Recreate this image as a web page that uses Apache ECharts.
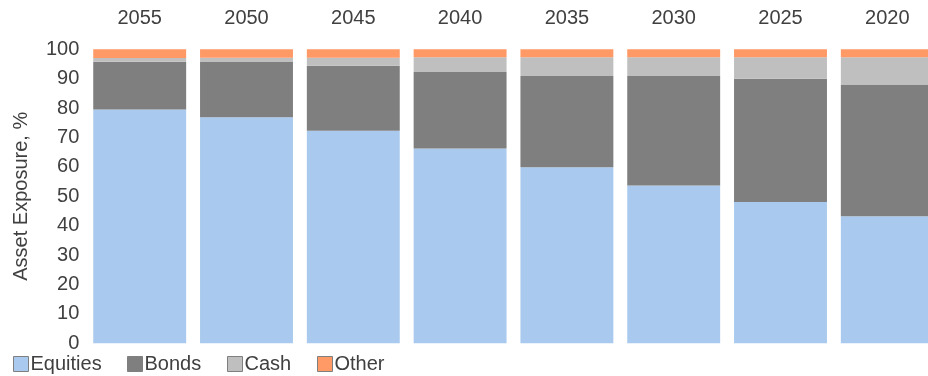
<!DOCTYPE html>
<html>
<head>
<meta charset="utf-8">
<script src="https://cdn.jsdelivr.net/npm/echarts@6/dist/echarts.min.js"></script>
<style>html,body{margin:0;padding:0;background:#fff;overflow:hidden;width:928px;height:376px}#c{width:945px;height:376px}</style>
</head>
<body>
<div id="c"></div>
<script>
const categories = ['2055','2050','2045','2040','2035','2030','2025','2020'];
const equities = [79.5, 76.9, 72.3, 66.3, 59.9, 53.7, 48.1, 43.2];
const bonds    = [16.3, 18.8, 22.1, 26.0, 31.0, 37.2, 41.9, 44.8];
const cash     = [1.2, 1.4, 2.7, 5.0, 6.4, 6.4, 7.3, 9.3];
const other    = [3.0, 2.9, 2.9, 2.7, 2.7, 2.7, 2.7, 2.7];
const seriesNames = ['Equities','Bonds','Cash','Other'];
const yTicks = [0,10,20,30,40,50,60,70,80,90,100];

const colors = ['#A9CAEE','#7F7F7F','#BFBFBF','#FF9966'];
const font = 'Liberation Sans, Arial, sans-serif';
const txt = '#404040';

const chart = echarts.init(document.getElementById('c'));
const values = [equities, bonds, cash, other];
const legendLefts = [13, 127, 227, 317];

chart.setOption({
  animation: false,
  color: colors,
  grid: { left: 86.3, right: 4.3, top: 49.3, bottom: 32.7, containLabel: false },
  xAxis: {
    type: 'category',
    position: 'top',
    data: categories,
    axisLine: { show: false },
    axisTick: { show: false },
    axisLabel: { color: txt, fontFamily: font, fontSize: 20, margin: 21 }
  },
  yAxis: {
    type: 'value',
    min: yTicks[0], max: yTicks[yTicks.length-1], interval: 10,
    name: 'Asset Exposure, %',
    nameLocation: 'middle',
    nameGap: 55,
    nameTextStyle: { color: txt, fontFamily: font, fontSize: 20 },
    axisLine: { show: false },
    axisTick: { show: false },
    splitLine: { show: false },
    axisLabel: { color: txt, fontFamily: font, fontSize: 20, margin: 7 }
  },
  legend: seriesNames.map((n, i) => ({
    data: [n],
    left: legendLefts[i],
    top: 354,
    itemWidth: 15,
    itemHeight: 15,
    icon: 'rect',
    padding: 0,
    itemStyle: { borderColor: '#7F7F7F', borderWidth: 1 },
    textStyle: { color: txt, fontFamily: font, fontSize: 20, padding: [0,0,0,-3] },
    selectedMode: false
  })),
  series: seriesNames.map((n, i) => ({
    name: n,
    type: 'bar',
    stack: 'total',
    barCategoryGap: '13%',
    data: values[i],
    itemStyle: { color: colors[i] }
  }))
});
</script>
</body>
</html>
